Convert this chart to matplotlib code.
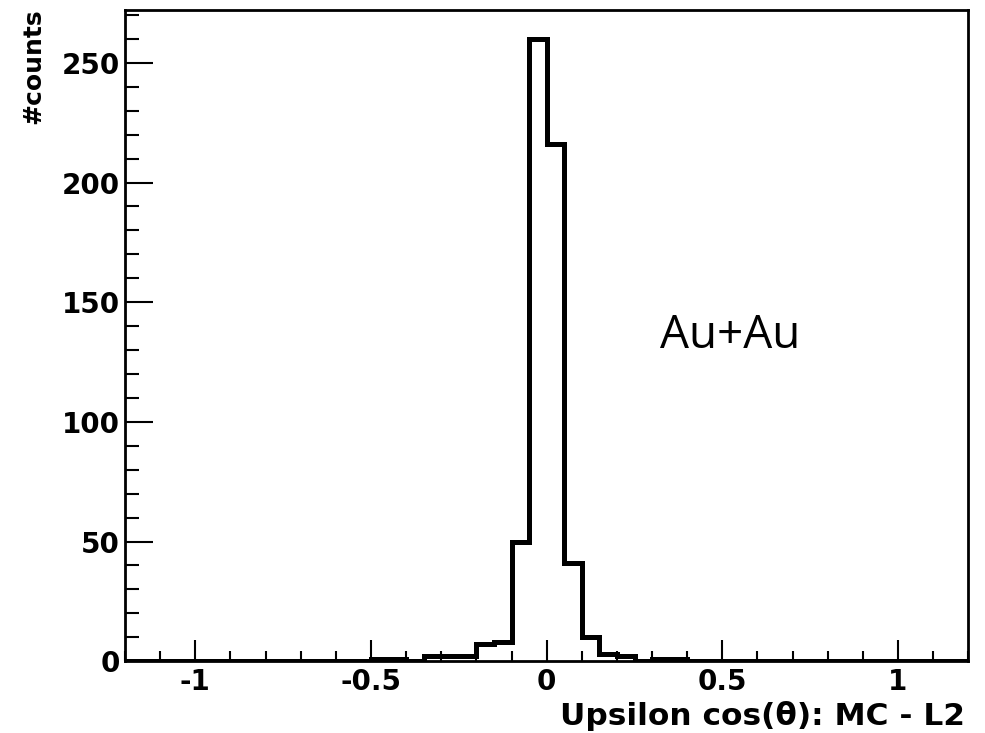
import numpy as np
import matplotlib.pyplot as plt
from matplotlib.ticker import MultipleLocator

# histogram of cos(theta) difference, bins of 0.05 from -1.2 to 1.2
bin_edges = np.round(np.arange(-1.2, 1.2001, 0.05), 2)
counts = [0] * 14 + [1, 1, 0, 2, 2, 2, 7, 8, 50, 260, 216, 41, 10, 3, 2, 0, 1, 1] + [0] * 16

x_label = 'Upsilon cos(\u03b8): MC - L2'
y_label = '#counts'
note = 'Au+Au'

fig = plt.figure(figsize=(9.85, 7.33), dpi=100)
ax = fig.add_axes([0.127, 0.098, 0.856, 0.888])

ax.stairs(counts, bin_edges, color='black', linewidth=3.6)

ax.set_xlim(-1.2, 1.2)
ax.set_ylim(0, 272)
ax.xaxis.set_major_locator(MultipleLocator(0.5))
ax.xaxis.set_minor_locator(MultipleLocator(0.1))
ax.yaxis.set_major_locator(MultipleLocator(50))
ax.yaxis.set_minor_locator(MultipleLocator(10))
ax.xaxis.set_major_formatter(lambda v, p: f'{v:g}')

ax.tick_params(which='both', direction='in', top=False, right=False, width=1.5,
               labelsize=20)
ax.tick_params(axis='x', which='major', length=15, pad=5)
ax.tick_params(axis='x', which='minor', length=7.5)
ax.tick_params(axis='y', which='major', length=20, pad=4)
ax.tick_params(axis='y', which='minor', length=10)
for lab in ax.get_xticklabels() + ax.get_yticklabels():
    lab.set_fontfamily('DejaVu Sans')
    lab.set_fontweight('bold')
for s in ax.spines.values():
    s.set_linewidth(2)

fig.text(0.980, 0.011, x_label, ha='right', va='baseline', fontsize=22.5,
         fontweight='bold', family='DejaVu Sans')
fig.text(0.034, 0.988, y_label, ha='center', va='top', rotation=90, fontsize=18,
         fontweight='bold', family='DejaVu Sans')
ax.text(0.522, 136, note, ha='center', va='center', fontsize=33, family='Open Sans')

fig.savefig('out.png', dpi=100)
